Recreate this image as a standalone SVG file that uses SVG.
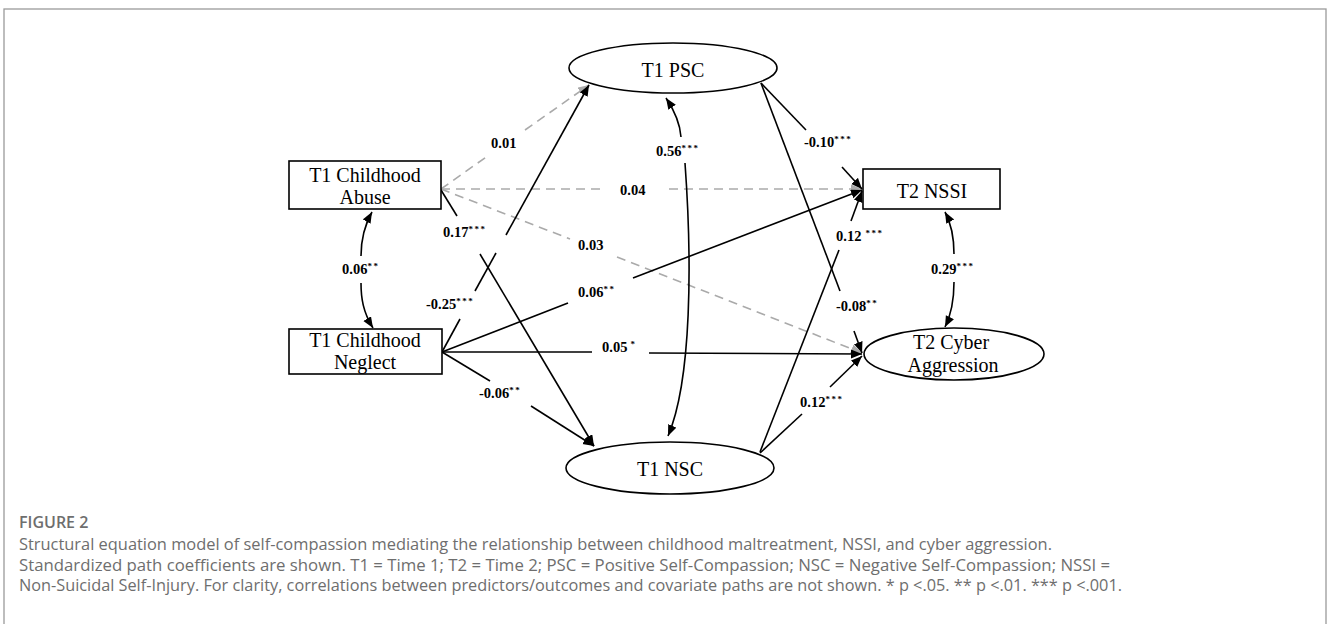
<svg xmlns="http://www.w3.org/2000/svg" width="1328" height="624" viewBox="0 0 1328 624">
<defs>
<marker id="ah" markerUnits="userSpaceOnUse" markerWidth="12" markerHeight="10" refX="11" refY="4.5" orient="auto-start-reverse"><path d="M0,0 L11,4.5 L0,9 Z" fill="#000"/></marker>
<marker id="ahg" markerUnits="userSpaceOnUse" markerWidth="12" markerHeight="10" refX="11" refY="4.5" orient="auto-start-reverse"><path d="M0,0 L11,4.5 L0,9 Z" fill="#aaa"/></marker>
</defs>
<style>
.node{fill:#fff;stroke:#000;stroke-width:1.6}
.nt{font-family:"Liberation Serif","Times New Roman",serif;font-size:20px;fill:#000;text-anchor:middle}
.s{fill:none;stroke:#000;stroke-width:1.6}
.d{fill:none;stroke:#aaa;stroke-width:1.6;stroke-dasharray:9,6}
.lb{font-family:"Liberation Serif","Times New Roman",serif;font-size:14.5px;font-weight:bold;fill:#000}
.st{font-size:9px;letter-spacing:1.5px}
.cap{font-family:"Open Sans","Noto Sans",sans-serif;font-size:16px;fill:#6e6e6e}
</style>
<rect x="4" y="9" width="1322" height="630" fill="none" stroke="#9a9a9a" stroke-width="1.3"/>

<g id="connectors">
<path class="d" d="M441,189 L489,155"/><path class="d" d="M525,130 L589,85" marker-end="url(#ahg)"/>
<path class="d" d="M441,189 L606,189"/><path class="d" d="M669,189 L862,189" marker-end="url(#ahg)"/>
<path class="d" d="M441,189 L570,239"/><path class="d" d="M617,257 L862,353" marker-end="url(#ahg)"/>
<path class="s" d="M441,190 L457,216"/><path class="s" d="M480,254 L594,446" marker-end="url(#ah)"/>
<path class="s" d="M442,352 L460,319"/><path class="s" d="M475,291 L496,253"/><path class="s" d="M506,235 L589,85" marker-end="url(#ah)"/>
<path class="s" d="M442,352 L568,303"/><path class="s" d="M633,278 L862,190" marker-end="url(#ah)"/>
<path class="s" d="M442,352 L592,352"/><path class="s" d="M649,353 L862,354" marker-end="url(#ah)"/>
<path class="s" d="M442,352 L490,381"/><path class="s" d="M531,406 L594,446" marker-end="url(#ah)"/>
<path class="s" d="M761,83 L806,130"/><path class="s" d="M842,167 L862,189" marker-end="url(#ah)"/>
<path class="s" d="M761,83 L840,291"/><path class="s" d="M854,331 L862,353" marker-end="url(#ah)"/>
<path class="s" d="M760,452 L839,250"/><path class="s" d="M851,221 L862,191" marker-end="url(#ah)"/>
<path class="s" d="M760,453 L802,414"/><path class="s" d="M830,387 L862,356" marker-end="url(#ah)"/>
<path class="s" d="M372,212 C363,228 361,243 361,256" marker-start="url(#ah)"/>
<path class="s" d="M361,283 C361,298 363,312 373,328" marker-end="url(#ah)"/>
<path class="s" d="M666,98 C674,110 680,122 681,137" marker-start="url(#ah)"/>
<path class="s" d="M685,163 C692,260 692,380 668,436" marker-end="url(#ah)"/>
<path class="s" d="M945,212 C952,225 954,240 954,254" marker-start="url(#ah)"/>
<path class="s" d="M954,282 C954,298 952,313 945,327" marker-end="url(#ah)"/>
</g>

<g id="labels">
<text class="lb" x="491" y="148">0.01</text>
<text class="lb" x="620" y="195">0.04</text>
<text class="lb" x="578" y="250">0.03</text>
<text class="lb" x="443" y="237">0.17<tspan class="st" dy="-5">***</tspan></text>
<text class="lb" x="426" y="309">-0.25<tspan class="st" dy="-5">***</tspan></text>
<text class="lb" x="578" y="297">0.06<tspan class="st" dy="-5">**</tspan></text>
<text class="lb" x="602" y="352">0.05<tspan class="st" dx="3" dy="-5">*</tspan></text>
<text class="lb" x="479" y="398">-0.06<tspan class="st" dy="-5">**</tspan></text>
<text class="lb" x="342" y="274">0.06<tspan class="st" dy="-5">**</tspan></text>
<text class="lb" x="656" y="156">0.56<tspan class="st" dy="-5">***</tspan></text>
<text class="lb" x="804" y="147">-0.10<tspan class="st" dy="-5">***</tspan></text>
<text class="lb" x="836" y="241">0.12<tspan class="st" dx="4" dy="-5">***</tspan></text>
<text class="lb" x="836" y="311">-0.08<tspan class="st" dy="-5">**</tspan></text>
<text class="lb" x="931" y="274">0.29<tspan class="st" dy="-5">***</tspan></text>
<text class="lb" x="800" y="407">0.12<tspan class="st" dy="-5">***</tspan></text>
</g>

<g id="abuse"><rect class="node" x="289" y="161" width="152" height="48"/><text class="nt" x="365" y="182">T1 Childhood</text><text class="nt" x="365" y="204">Abuse</text></g>
<g id="neglect"><rect class="node" x="289" y="329" width="153" height="45"/><text class="nt" x="365" y="347">T1 Childhood</text><text class="nt" x="365" y="369">Neglect</text></g>
<g id="psc"><ellipse class="node" cx="673" cy="68" rx="104" ry="25"/><text class="nt" x="673" y="77">T1 PSC</text></g>
<g id="nsc"><ellipse class="node" cx="670" cy="468" rx="104" ry="26"/><text class="nt" x="670" y="476">T1 NSC</text></g>
<g id="nssi"><rect class="node" x="863" y="169" width="137" height="40"/><text class="nt" x="932" y="198">T2 NSSI</text></g>
<g id="cyber"><ellipse class="node" cx="954" cy="354" rx="90" ry="26"/><text class="nt" x="951" y="349">T2 Cyber</text><text class="nt" x="953" y="372">Aggression</text></g>

<g id="caption">
<text class="cap" x="19" y="528" style="font-weight:600">FIGURE 2</text>
<text class="cap" x="19" y="550" textLength="1033" lengthAdjust="spacingAndGlyphs">Structural equation model of self-compassion mediating the relationship between childhood maltreatment, NSSI, and cyber aggression.</text>
<text class="cap" x="19" y="571" textLength="1091" lengthAdjust="spacingAndGlyphs">Standardized path coefficients are shown. T1 = Time 1; T2 = Time 2; PSC = Positive Self-Compassion; NSC = Negative Self-Compassion; NSSI =</text>
<text class="cap" x="19" y="591" textLength="1103" lengthAdjust="spacingAndGlyphs">Non-Suicidal Self-Injury. For clarity, correlations between predictors/outcomes and covariate paths are not shown. * p &lt;.05. ** p &lt;.01. *** p &lt;.001.</text>
</g>
</svg>
